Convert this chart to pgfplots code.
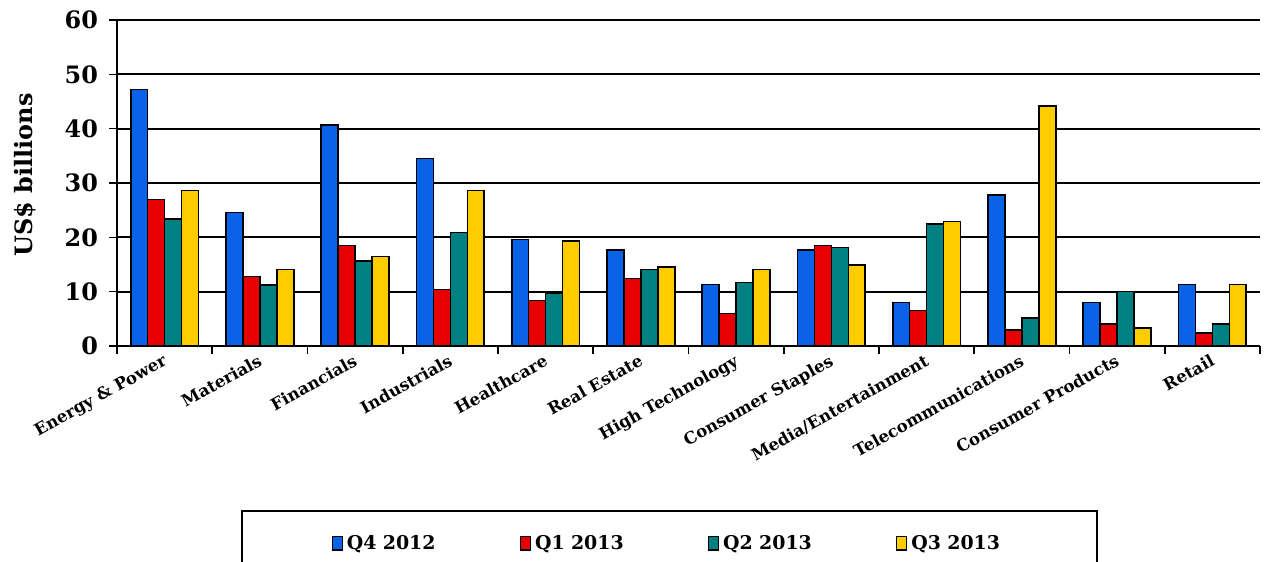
\documentclass[border=0pt]{standalone}
\usepackage{pgfplots}
\pgfplotsset{compat=1.18}
\usepackage{pgfplotstable}
\usepackage{fontspec}
\setmainfont{DejaVu Serif}
\definecolor{cblue}{RGB}{10,98,232}
\definecolor{cred}{RGB}{230,0,0}
\definecolor{cteal}{RGB}{0,128,128}
\definecolor{cyellow}{RGB}{255,204,0}
\pgfplotstableread{
x q4 q1 q2 q3
0 47.2 27.0 23.4 28.6
1 24.6 12.8 11.2 14.1
2 40.7 18.5 15.7 16.5
3 34.5 10.4 20.9 28.6
4 19.6 8.4 9.7 19.3
5 17.7 12.4 14.1 14.5
6 11.3 6.0 11.7 14.1
7 17.7 18.5 18.1 14.9
8 8.0 6.5 22.5 22.9
9 27.8 2.9 5.2 44.2
10 8.0 4.1 10.0 3.3
11 11.3 2.4 4.1 11.3
}\datatable
\begin{document}
\begin{tikzpicture}
\begin{axis}[
  name=ax,
  at={(0,0)}, anchor=south west,
  scale only axis,
  width=571.5bp, height=163bp,
  ymin=0, ymax=60,
  ytick={0,10,...,60},
  xmin=-0.5, xmax=11.5,
  xtick={-0.5,0.5,1.5,2.5,3.5,4.5,5.5,6.5,7.5,8.5,9.5,10.5,11.5},
  x tick label as interval,
  xticklabels={Energy \& Power,Materials,Financials,Industrials,Healthcare,Real Estate,High Technology,Consumer Staples,Media/Entertainment,Telecommunications,Consumer Products,Retail},
  axis x line=bottom, axis y line=left,
  axis line style={-, line width=1bp, black},
  tick align=outside,
  major tick length=4bp,
  tick style={line width=0.8bp, black},
  ymajorgrids,
  major grid style={line width=1bp, black},
  /pgf/number format/assume math mode=true,
  y tick label style={font=\bfseries\fontsize{12}{13}\selectfont, xshift=-2bp},
  x tick label style={font=\bfseries\fontsize{8.3}{10}\selectfont, rotate=29, anchor=north east, inner sep=1bp, yshift=2bp},
  ylabel={US\$ billions},
  ylabel style={font=\bfseries\fontsize{12}{14}\selectfont, at={(axis description cs:-0.0805,0.525)}, anchor=center},
  ybar=0pt,
  bar width=0.178,
  legend columns=4,
  legend image code/.code={\draw[#1, line width=0.6bp] (0bp,-3.3bp) rectangle (5bp,3.3bp);},
  legend style={at={(0.4834,-0.503)}, anchor=north, draw=black, line width=1bp,
    font=\bfseries\fontsize{9.5}{11}\selectfont, inner xsep=45bp, inner ysep=10bp,
    /tikz/every odd column/.append style={column sep=0bp},
    /tikz/every even column/.append style={column sep=38.5bp},
    nodes={text width=46bp, align=left}},
]
\addplot[fill=cblue, draw=black, line width=0.8bp] table[x=x,y=q4] {\datatable};
\addplot[fill=cred, draw=black, line width=0.8bp] table[x=x,y=q1] {\datatable};
\addplot[fill=cteal, draw=black, line width=0.8bp] table[x=x,y=q2] {\datatable};
\addplot[fill=cyellow, draw=black, line width=0.8bp] table[x=x,y=q3] {\datatable};
\legend{Q4 2012,Q1 2013,Q2 2013,Q3 2013}
\end{axis}
\pgfresetboundingbox
\path[use as bounding box] (-58.5bp,-108bp) rectangle (573.5bp,173bp);
\end{tikzpicture}
\end{document}
